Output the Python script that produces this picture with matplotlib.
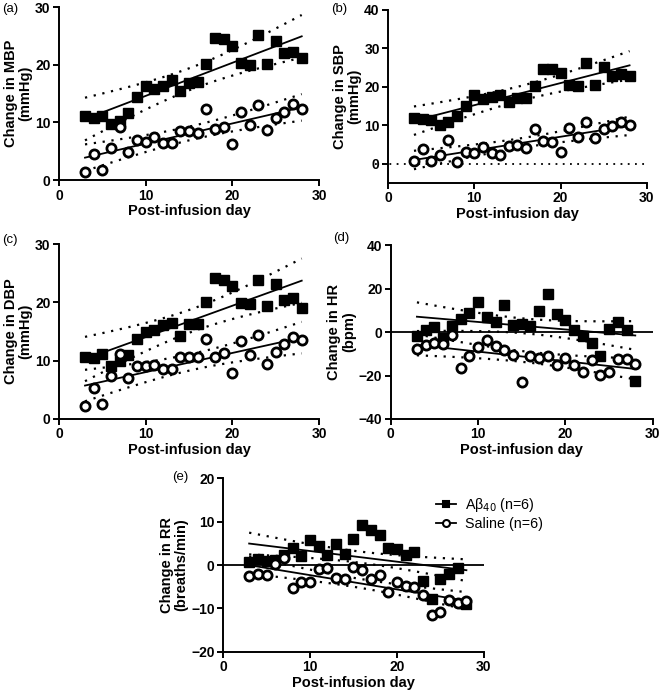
import numpy as np
import matplotlib
matplotlib.use("Agg")
import matplotlib.pyplot as plt

plt.rcParams['font.family'] = ['Liberation Sans', 'DejaVu Sans']

# --- datos ---
days = np.arange(3, 29)

mbp_abeta = [11.2, 10.8, 11.2, 9.7, 10.3, 11.7, 14.4, 16.3, 15.8, 16.3, 17.3, 15.4, 16.8,
             17.0, 20.1, 24.6, 24.4, 23.3, 20.4, 20.0, 25.2, 20.2, 24.2, 22.0, 22.3, 21.1]
mbp_saline = [1.5, 4.5, 1.7, 5.6, 9.3, 4.9, 6.9, 6.7, 7.5, 6.5, 6.4, 8.5, 8.5,
              8.2, 12.3, 8.9, 9.3, 6.2, 11.9, 9.6, 13.1, 8.7, 10.7, 11.9, 13.2, 12.4]

sbp_abeta = [11.9, 11.6, 11.5, 10.2, 10.8, 12.3, 15.1, 17.8, 16.9, 17.3, 18.0, 16.1, 17.1,
             17.1, 20.1, 24.7, 24.6, 23.7, 20.6, 20.1, 26.1, 20.6, 25.1, 22.7, 23.3, 22.7]
sbp_saline = [0.7, 3.7, 0.8, 2.3, 6.2, 0.5, 3.1, 2.9, 4.4, 2.9, 2.3, 4.7, 4.9,
              4.0, 9.0, 6.0, 5.7, 3.0, 9.3, 7.0, 10.8, 6.7, 9.1, 9.8, 10.9, 10.1]

dbp_abeta = [10.6, 10.4, 11.1, 9.0, 10.0, 10.9, 13.7, 14.9, 15.3, 16.1, 16.5, 14.3, 16.3,
             16.2, 20.0, 24.1, 23.8, 22.8, 19.8, 19.7, 23.8, 19.4, 23.1, 20.4, 20.7, 19.0]
dbp_saline = [2.2, 5.3, 2.5, 7.4, 11.2, 7.1, 9.0, 9.0, 9.3, 8.5, 8.6, 10.7, 10.6,
              10.7, 13.7, 10.7, 11.3, 7.9, 13.4, 10.9, 14.4, 9.5, 11.5, 12.9, 14.1, 13.5]

hr_abeta = [-2.0, 1.1, 2.3, -2.8, 2.6, 6.1, 8.6, 13.8, 7.0, 4.4, 12.4, 3.1, 3.5,
            2.8, 9.5, 17.5, 8.1, 5.4, 1.1, -1.7, -5.1, -11.0, 1.2, 4.6, 1.1, -22.7]
hr_saline = [-7.8, -6.0, -5.1, -5.7, -1.2, -16.7, -11.2, -6.9, -3.7, -6.4, -8.4, -10.7, -22.8,
             -10.9, -11.8, -11.0, -15.3, -11.8, -15.3, -18.4, -13.0, -19.8, -18.4, -12.4, -12.3, -14.6]

rr_abeta = [0.8, 1.4, 0.9, 1.2, 2.2, 3.8, 2.1, 5.8, 4.4, 2.3, 4.8, 2.5, 6.0,
            9.2, 8.1, 6.9, 3.9, 3.7, 2.3, 2.9, -3.6, -7.9, -3.2, -2.1, -0.8, -9.0]
rr_saline = [-2.6, -2.1, -2.2, 0.2, 1.5, -5.3, -4.0, -3.9, -0.9, -0.6, -3.0, -3.2, -0.5,
             -1.1, -3.2, -2.3, -6.3, -3.8, -4.8, -5.0, -6.9, -11.6, -10.8, -8.1, -8.8, -8.2]

# semiancho de la banda de confianza (95%) en los extremos (dia 3 / dia 28)
ci_abeta = {'a': 3.7, 'b': 3.7, 'c': 3.8, 'd': 6.6, 'e': 2.5}
ci_saline = {'a': 2.3, 'b': 2.4, 'c': 2.7, 'd': 4.8, 'e': 2.0}

ylabels = {'a': 'Change in MBP\n(mmHg)', 'b': 'Change in SBP\n(mmHg)',
           'c': 'Change in DBP\n(mmHg)', 'd': 'Change in HR\n(bpm)',
           'e': 'Change in RR\n(breaths/min)'}
ylims = {'a': (0, 30), 'b': (-5, 40), 'c': (0, 30), 'd': (-40, 40), 'e': (-20, 20)}
yticks = {'a': [0, 10, 20, 30], 'b': [0, 10, 20, 30, 40], 'c': [0, 10, 20, 30],
          'd': [-40, -20, 0, 20, 40], 'e': [-20, -10, 0, 10, 20]}
xticks = [0, 10, 20, 30]

PUNTEADO = (0, (1, 3.0))


def regresion(ax, x, y, hw_end):
    x = np.asarray(x, float)
    y = np.asarray(y, float)
    m, b = np.polyfit(x, y, 1)
    xs = np.linspace(x.min(), x.max(), 100)
    ys = m * xs + b
    n = len(x)
    sxx = np.sum((x - x.mean()) ** 2)
    forma = np.sqrt(1.0 / n + (xs - x.mean()) ** 2 / sxx)
    forma_end = np.sqrt(1.0 / n + (x.min() - x.mean()) ** 2 / sxx)
    hw = hw_end * forma / forma_end
    ax.plot(xs, ys, color='black', lw=1.3, zorder=2)
    for signo in (1, -1):
        ax.plot(xs, ys + signo * hw, color='black', lw=1.6,
                linestyle=PUNTEADO, zorder=2)


def panel(ax, key, abeta, saline):
    regresion(ax, days, abeta, ci_abeta[key])
    regresion(ax, days, saline, ci_saline[key])
    h1, = ax.plot(days, abeta, 's', color='black', ms=6.8, zorder=3,
                  label='A\u03b2' + r'$_{40}$' + ' (n=6)')
    h2, = ax.plot(days, saline, 'o', mfc='white', mec='black', mew=2.0, ms=6.6,
                  zorder=3, label='Saline (n=6)')
    ax.set_xlim(0, 30)
    ax.set_ylim(*ylims[key])
    ax.set_xticks(xticks)
    ax.set_yticks(yticks[key])
    for s in ('top', 'right'):
        ax.spines[s].set_visible(False)
    for s in ('left', 'bottom'):
        ax.spines[s].set_linewidth(1.4)
    ax.tick_params(width=1.4, length=4, labelsize=10, pad=2)
    for lab in ax.get_xticklabels() + ax.get_yticklabels():
        lab.set_fontweight('bold')
    ax.set_xlabel('Post-infusion day', fontsize=10.5, fontweight='bold', labelpad=1)
    ax.set_ylabel(ylabels[key], fontsize=10.5, fontweight='bold', labelpad=2,
                  linespacing=1.05)
    return h1, h2


fig = plt.figure(figsize=(6.6, 6.93), dpi=100)

posiciones = {
    'a': [0.0894, 0.740, 0.394, 0.2497],
    'b': [0.588, 0.736, 0.392, 0.2497],
    'c': [0.0894, 0.3954, 0.394, 0.2525],
    'd': [0.592, 0.3954, 0.397, 0.251],
    'e': [0.338, 0.0592, 0.395, 0.251],
}
datos = {'a': (mbp_abeta, mbp_saline), 'b': (sbp_abeta, sbp_saline),
         'c': (dbp_abeta, dbp_saline), 'd': (hr_abeta, hr_saline),
         'e': (rr_abeta, rr_saline)}
etiquetas = {'a': (0.003, 0.996), 'b': (0.501, 0.996), 'c': (0.003, 0.662),
             'd': (0.505, 0.665), 'e': (0.261, 0.320)}

for key in ['a', 'b', 'c', 'd', 'e']:
    ax = fig.add_axes(posiciones[key])
    h1, h2 = panel(ax, key, *datos[key])
    if key == 'b':
        ax.axhline(0, xmin=-0.05, color='black', lw=1.3, linestyle=PUNTEADO,
                   zorder=1, clip_on=False)
    if key in ('d', 'e'):
        ax.axhline(0, color='black', lw=1.3, zorder=1)
    fig.text(etiquetas[key][0], etiquetas[key][1], '(%s)' % key, fontsize=9.5,
             va='top', ha='left')
    if key == 'e':
        handles = []
        for h in (h1, h2):
            hh, = ax.plot([], [], marker=h.get_marker(), color='black', lw=1.3,
                          ms=5, mfc=h.get_markerfacecolor(), mec='black',
                          mew=1.5, label=h.get_label())
            handles.append(hh)
        fig.legend(handles=handles, loc='upper left', bbox_to_anchor=(0.652, 0.292),
                   frameon=False, fontsize=10.3, handlelength=1.4, handletextpad=0.6,
                   labelspacing=0.15, borderaxespad=0)

fig.savefig('out.png', dpi=100)
